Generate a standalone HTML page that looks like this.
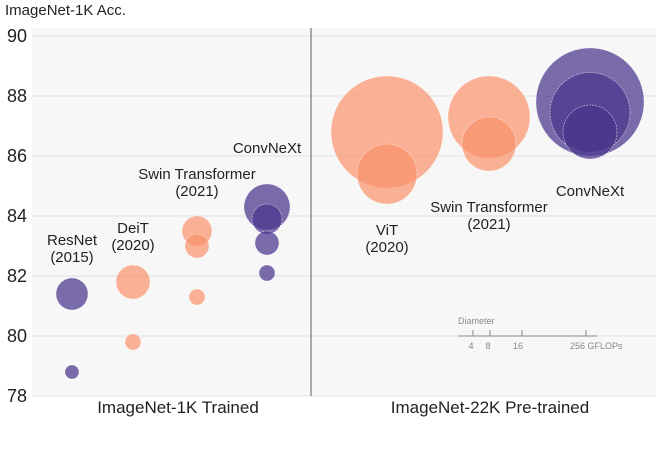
<!DOCTYPE html>
<html><head><meta charset="utf-8"><style>
body{margin:0;background:#fff;}
svg{display:block;font-family:"Liberation Sans",Arial,sans-serif;}
</style></head><body>
<svg id="chart" width="656" height="452" viewBox="0 0 656 452">
<rect x="32" y="28" width="624" height="368" fill="#f7f7f7"/>
<g id="grid"></g>
<line x1="311" y1="28" x2="311" y2="396" stroke="#777" stroke-width="1.2"/>
<g id="bubbles"></g>
<g id="labels"></g>
<text x="5" y="15" font-size="15" fill="#222">ImageNet-1K Acc.</text>
<text x="178" y="413" font-size="17" fill="#222" text-anchor="middle">ImageNet-1K Trained</text>
<text x="490" y="413" font-size="17" fill="#222" text-anchor="middle">ImageNet-22K Pre-trained</text>
<g fill="#888" font-size="9">
<text x="458" y="324">Diameter</text>
<line x1="458" y1="336" x2="597" y2="336" stroke="#888"/>
<line x1="473" y1="330" x2="473" y2="336" stroke="#888"/>
<line x1="490" y1="330" x2="490" y2="336" stroke="#888"/>
<line x1="522" y1="330" x2="522" y2="336" stroke="#888"/>
<line x1="586" y1="330" x2="586" y2="336" stroke="#888"/>
<text x="471" y="349" text-anchor="middle">4</text>
<text x="488" y="349" text-anchor="middle">8</text>
<text x="518" y="349" text-anchor="middle">16</text>
<text x="570" y="349">256 GFLOPs</text>
</g>
</svg>
<script>
const yTicks=[78,80,82,84,86,88,90];
const bubbleX=[72,72,133,133,197,197,197,267,267,267,267,387,387,489,489,590,590,590];
const bubbleAcc=[81.4,78.8,81.8,79.8,83.5,83.0,81.3,84.3,83.9,83.1,82.1,86.8,85.4,87.3,86.4,87.8,87.45,86.8];
const bubbleR=[16,7,17,8,15,12,8,23,15,12,8,56,30,41,27,54,40,27];
const bubbleFamily=["p","p","o","o","o","o","o","p","p","p","p","o","o","o","o","p","p","p"];
const labelText=[["ResNet","(2015)"],["DeiT","(2020)"],["Swin Transformer","(2021)"],["ConvNeXt"],["ViT","(2020)"],["Swin Transformer","(2021)"],["ConvNeXt"]];
const labelX=[72,133,197,267,387,489,590];
const labelAcc=[83.03,83.43,85.23,86.1,83.37,84.13,84.67];
const NS="http://www.w3.org/2000/svg";
function yScale(v){return 396-(v-78)*30;}
const grid=document.getElementById('grid');
yTicks.forEach(t=>{
 const l=document.createElementNS(NS,'line');
 l.setAttribute('x1',32);l.setAttribute('x2',656);l.setAttribute('y1',yScale(t));l.setAttribute('y2',yScale(t));
 l.setAttribute('stroke','#e2e2e2');l.setAttribute('stroke-width','1');
 
 
 grid.appendChild(l);
 const tx=document.createElementNS(NS,'text');
 tx.setAttribute('x',27);tx.setAttribute('y',yScale(t)+6);tx.setAttribute('text-anchor','end');
 tx.setAttribute('font-size','18');tx.setAttribute('fill','#222');tx.textContent=t;
 
 
 grid.appendChild(tx);
});
const bg=document.getElementById('bubbles');
bubbleX.forEach((x,i)=>{
 const c=document.createElementNS(NS,'circle');
 c.setAttribute('cx',x);c.setAttribute('cy',yScale(bubbleAcc[i]));c.setAttribute('r',bubbleR[i]);
 c.setAttribute('fill',bubbleFamily[i]==='p'?'rgba(72,52,140,0.72)':'rgba(250,145,105,0.7)');
 c.setAttribute('stroke','rgba(255,255,255,0.7)');c.setAttribute('stroke-width','0.6');c.setAttribute('stroke-dasharray','2 1');
 
 
 bg.appendChild(c);
});
const lg=document.getElementById('labels');
labelText.forEach((lines,i)=>{
 lines.forEach((s,j)=>{
  const t=document.createElementNS(NS,'text');
  t.setAttribute('x',labelX[i]);t.setAttribute('y',yScale(labelAcc[i])+j*17);
  t.setAttribute('text-anchor','middle');t.setAttribute('font-size','15');t.setAttribute('fill','#222');
  t.textContent=s;
  
  
  lg.appendChild(t);
 });
});
</script>
</body></html>
